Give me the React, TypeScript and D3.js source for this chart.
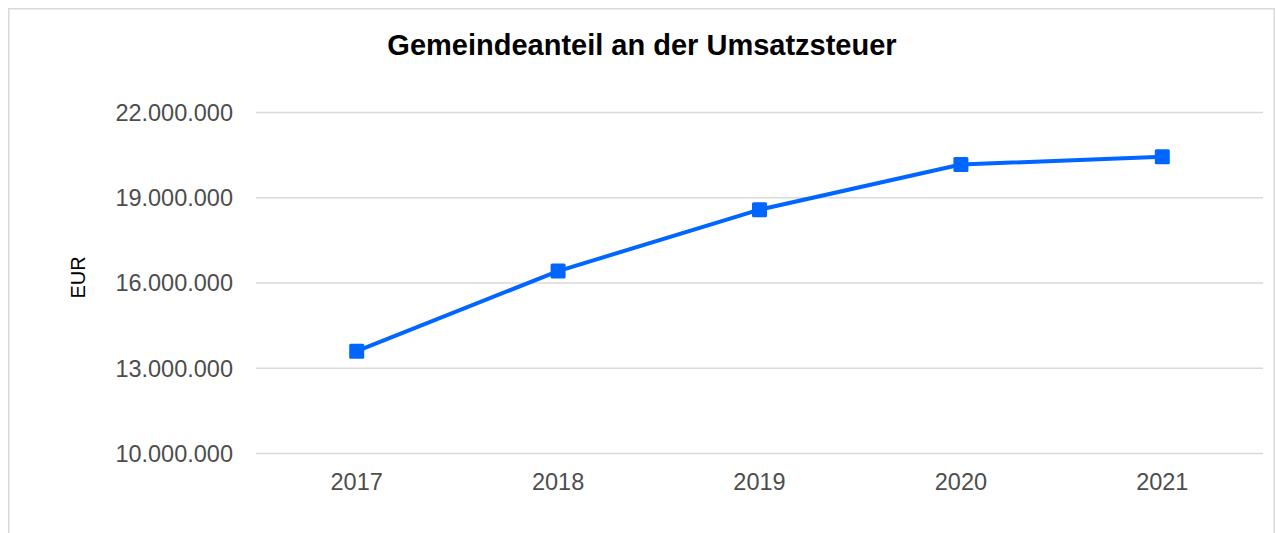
import React from "react";
import * as d3 from "d3";

const years = ["2017", "2018", "2019", "2020", "2021"];
const values = [13600000, 16420000, 18580000, 20170000, 20440000];
const yTicks = [10000000, 13000000, 16000000, 19000000, 22000000];

const title = "Gemeindeanteil an der Umsatzsteuer";
const yLabel = "EUR";

const W = 1276;
const H = 533;
const font = "Arial, 'Liberation Sans', Helvetica, sans-serif";

const App = () => {
  const margin = { left: 256, right: 13, top: 112.5, bottom: 79.5 };

  const x = d3.scaleBand<string>().domain(years).range([margin.left, W - margin.right]);
  const y = d3.scaleLinear().domain([10000000, 22000000]).range([H - margin.bottom, margin.top]);

  const fmt = (v: number) => d3.format(",")(v).replace(/,/g, ".");

  const line = d3
    .line<number>()
    .x((_, i) => (x(years[i]) as number) + x.bandwidth() / 2)
    .y((d) => y(d));

  const sq = 15;

  return (
    <svg
      width={W}
      height={H}
      style={{ position: "absolute", left: 0, top: 0 }}
      fontFamily={font}
    >
      <rect x={0} y={0} width={W} height={H} fill="#fff" />
      <rect x={8.75} y={8.75} width={1265.5} height={600} fill="none" stroke="#d9d9d9" strokeWidth={1.5} />

      <text x={642} y={55} textAnchor="middle" fontSize={29} fontWeight="bold" fill="#000">
        {title}
      </text>

      {yTicks.map((t) => (
        <g key={t}>
          <line x1={margin.left} x2={W - margin.right} y1={y(t)} y2={y(t)} stroke="#d9d9d9" strokeWidth={1.5} />
          <text x={233} y={y(t)} dy="0.36em" textAnchor="end" fontSize={23.5} fill="#4d4d4d">
            {fmt(t)}
          </text>
        </g>
      ))}

      {years.map((yr) => (
        <text
          key={yr}
          x={(x(yr) as number) + x.bandwidth() / 2}
          y={490}
          textAnchor="middle"
          fontSize={23.5}
          fill="#4d4d4d"
        >
          {yr}
        </text>
      ))}

      <text
        transform={`translate(85,277.5) rotate(-90)`}
        textAnchor="middle"
        fontSize={20}
        fill="#000"
      >
        {yLabel}
      </text>

      <path d={line(values) || ""} fill="none" stroke="#0066ff" strokeWidth={4} strokeLinejoin="round" />

      {values.map((v, i) => (
        <rect
          key={years[i]}
          x={(x(years[i]) as number) + x.bandwidth() / 2 - sq / 2}
          y={y(v) - sq / 2}
          width={sq}
          height={sq}
          rx={1.5}
          fill="#0066ff"
        />
      ))}
    </svg>
  );
};

export default App;
